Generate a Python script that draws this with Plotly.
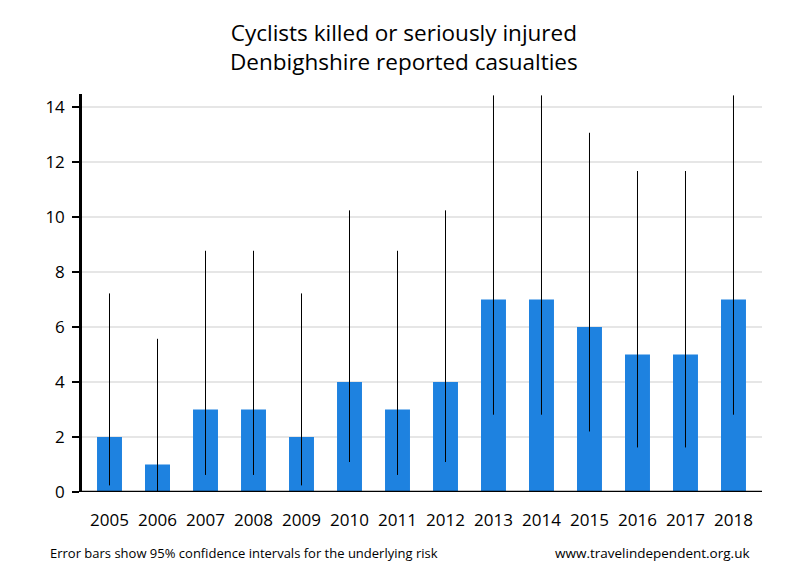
import plotly.graph_objects as go

years = ["2005", "2006", "2007", "2008", "2009", "2010", "2011", "2012",
         "2013", "2014", "2015", "2016", "2017", "2018"]
casualties = [2, 1, 3, 3, 2, 4, 3, 4, 7, 7, 6, 5, 5, 7]
ci_lower = [0.24, 0.03, 0.62, 0.62, 0.24, 1.09, 0.62, 1.09, 2.81, 2.81, 2.20, 1.62, 1.62, 2.81]
ci_upper = [7.22, 5.57, 8.77, 8.77, 7.22, 10.24, 8.77, 10.24, 14.42, 14.42, 13.06, 11.67, 11.67, 14.42]
y_ticks = [0, 2, 4, 6, 8, 10, 12, 14]

err_plus = [u - v for u, v in zip(ci_upper, casualties)]
err_minus = [v - l for l, v in zip(ci_lower, casualties)]

FONT = "Open Sans"

fig = go.Figure()
fig.add_trace(go.Bar(
    x=years, y=casualties,
    marker=dict(color="#1E82E0", line=dict(width=0)),
    error_y=dict(type="data", symmetric=False, array=err_plus, arrayminus=err_minus,
                 color="black", thickness=1, width=0),
    hoverinfo="x+y",
))

fig.update_layout(
    width=784, height=564,
    paper_bgcolor="white", plot_bgcolor="white",
    margin=dict(l=74, r=30, t=86, b=80),
    bargap=0.48,
    showlegend=False,
    font=dict(family=FONT, color="black"),
    xaxis=dict(range=[-0.573, 13.594], showline=False, showgrid=False, ticks="",
               ticklabelstandoff=16,
               tickfont=dict(size=17, family=FONT, color="black")),
    yaxis=dict(range=[0, 14.47], tickvals=y_ticks, showgrid=True, gridcolor="#E6E6E6",
               gridwidth=2, showline=True, linecolor="black", linewidth=2.5,
               ticks="outside", ticklen=7, tickwidth=2, tickcolor="black",
               zeroline=False, ticklabelstandoff=4,
               tickfont=dict(size=17, family=FONT, color="black")),
    annotations=[
        dict(text="Cyclists killed or seriously injured<br>Denbighshire reported casualties",
             xref="paper", yref="paper", x=0.4735, y=1.118, xanchor="center", yanchor="middle",
             showarrow=False, font=dict(size=22.5, family=FONT, color="black")),
        dict(text="Error bars show 95% confidence intervals for the underlying risk",
             xref="paper", yref="paper", x=-0.05, y=-0.153, xanchor="left", yanchor="middle",
             showarrow=False, font=dict(size=13, family=FONT, color="black")),
        dict(text="www.travelindependent.org.uk",
             xref="paper", yref="paper", x=0.985, y=-0.153, xanchor="right", yanchor="middle",
             showarrow=False, font=dict(size=13.5, family=FONT, color="black")),
    ],
)

fig.add_shape(type="line", xref="paper", yref="y", x0=0, x1=1, y0=0, y1=0,
              line=dict(color="black", width=2.5))

fig.write_html("out.html")
